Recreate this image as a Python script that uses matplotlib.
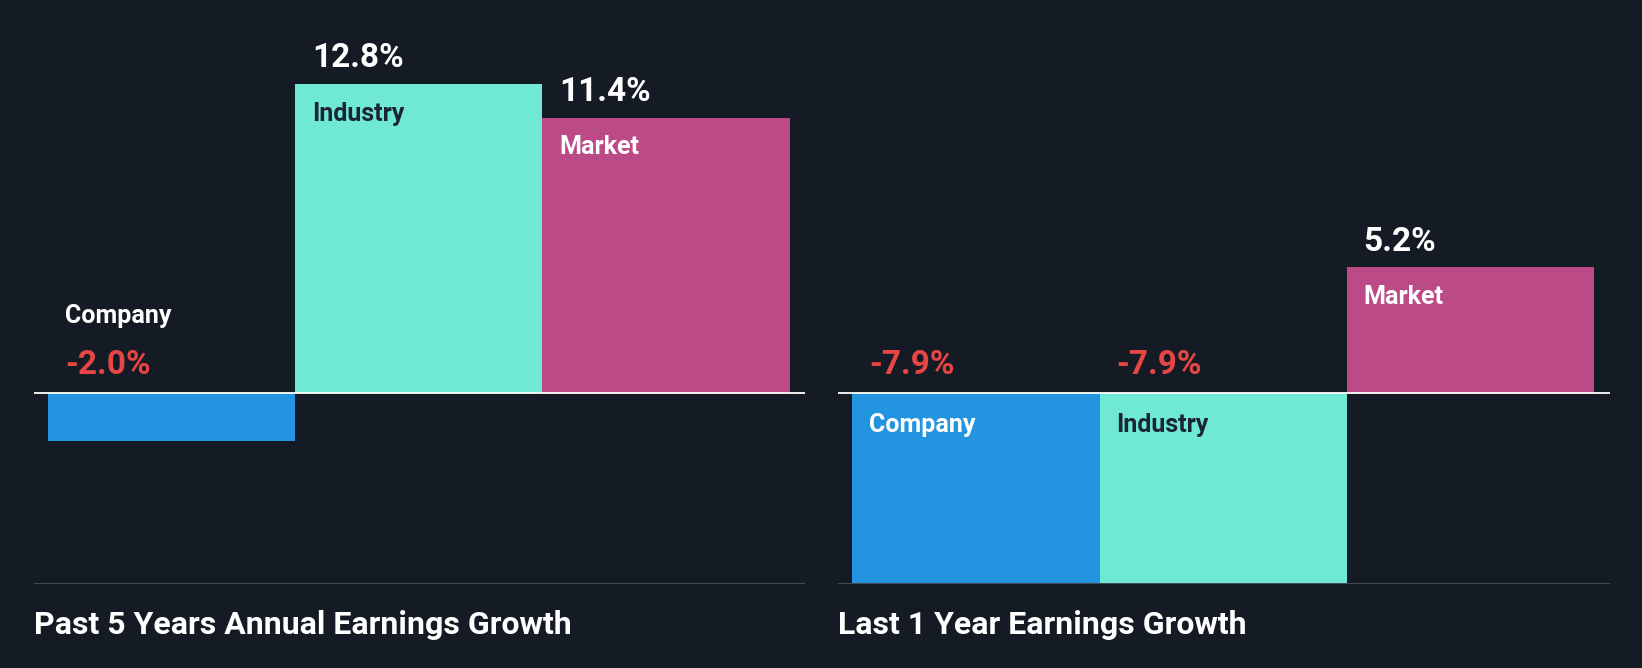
import matplotlib
matplotlib.use("Agg")
import matplotlib.pyplot as plt

categories = ["Company", "Industry", "Market"]
past5 = [-2.0, 12.8, 11.4]
last1 = [-7.9, -7.9, 5.2]
titles = ["Past 5 Years Annual Earnings Growth", "Last 1 Year Earnings Growth"]

BG = "#151b24"
colors = ["#2394df", "#6fe8d6", "#bb4a87"]
cat_text = ["white", "#1c2533", "white"]
RED = "#e84545"
W, H = 1568, 638  # layout reference space
K = 1642 / 1568
plt.rcParams["font.family"] = "Roboto"

fig = plt.figure(figsize=(16.42, 6.68), dpi=100, facecolor=BG)

def panel(x0, vals, title):
    ax = fig.add_axes([x0/W, (H-558)/H, 737/W, 558/H])
    ax.set_facecolor(BG)
    ax.set_xlim(-0.5-14/236, 2.5+15/236)
    ax.set_ylim(-7.94, 16.27)
    ax.bar(range(3), vals, width=1.0, color=colors, align="center")
    ax.axhline(0, color="white", lw=1.3)
    ax.axhline(-7.94, color="#4a5058", lw=2)
    for s in ax.spines.values():
        s.set_visible(False)
    ax.set_xticks([]); ax.set_yticks([])
    for i, v in enumerate(vals):
        xl = i - 0.5 + 16/236
        if v >= 0:
            ax.annotate(f"{v:.1f}%", (xl, v), xytext=(0, 9*K), textcoords="offset pixels",
                        color="white", fontsize=24, fontweight="bold", va="bottom", ha="left")
            ax.annotate(categories[i], (xl, v), xytext=(0, -17*K), textcoords="offset pixels",
                        color=cat_text[i], fontsize=18, fontweight="bold", va="top", ha="left")
        else:
            ax.annotate(f"{v:.1f}%", (xl, 0), xytext=(0, 11*K), textcoords="offset pixels",
                        color=RED, fontsize=24, fontweight="bold", va="bottom", ha="left")
            if -v > 3:
                ax.annotate(categories[i], (xl, 0), xytext=(0, -19*K), textcoords="offset pixels",
                            color=cat_text[i], fontsize=18, fontweight="bold", va="top", ha="left")
            else:
                ax.annotate(categories[i], (xl, 0), xytext=(0, 62*K), textcoords="offset pixels",
                            color="white", fontsize=18, fontweight="bold", va="bottom", ha="left")
    fig.text(x0/W, 1-597/H, title, color="white", fontsize=23, fontweight="bold",
             va="center", ha="left")

panel(32, past5, titles[0])
panel(800, last1, titles[1])
fig.savefig("out.png", facecolor=BG, dpi=100)
